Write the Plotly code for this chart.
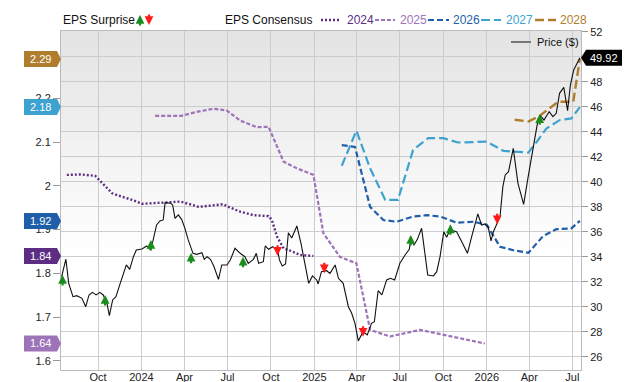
import plotly.graph_objects as go

# ---------------- data ----------------
price_dates = [
    "2023-07-16", "2023-07-25", "2023-07-31", "2023-08-09", "2023-08-17", "2023-08-28",
    "2023-09-05", "2023-09-12", "2023-09-19", "2023-09-27", "2023-10-05", "2023-10-12",
    "2023-10-20", "2023-10-25", "2023-11-01", "2023-11-08", "2023-11-17", "2023-11-24",
    "2023-11-30", "2023-12-07", "2023-12-15", "2023-12-21", "2024-01-02", "2024-01-12",
    "2024-01-19", "2024-01-25", "2024-02-02", "2024-02-09", "2024-02-16", "2024-02-20",
    "2024-02-25", "2024-03-03", "2024-03-07", "2024-03-12", "2024-03-19", "2024-03-26",
    "2024-04-02", "2024-04-09", "2024-04-19", "2024-04-27", "2024-05-08", "2024-05-13",
    "2024-05-19", "2024-05-26", "2024-06-02", "2024-06-12", "2024-06-19", "2024-06-30",
    "2024-07-07", "2024-07-17", "2024-07-28", "2024-08-07", "2024-08-14", "2024-08-25",
    "2024-08-31", "2024-09-05", "2024-09-15", "2024-09-19", "2024-09-26", "2024-10-05",
    "2024-10-16", "2024-10-19", "2024-10-25", "2024-11-01", "2024-11-07", "2024-11-14",
    "2024-11-25", "2024-12-04", "2024-12-20", "2024-12-28", "2025-01-06", "2025-01-09",
    "2025-01-16", "2025-01-27", "2025-02-03", "2025-02-14", "2025-02-21", "2025-03-03",
    "2025-03-14", "2025-03-21", "2025-03-28", "2025-04-04", "2025-04-14", "2025-04-23",
    "2025-05-02", "2025-05-08", "2025-05-16", "2025-05-24", "2025-06-03", "2025-06-11",
    "2025-06-20", "2025-07-01", "2025-07-12", "2025-07-21", "2025-07-24", "2025-07-31",
    "2025-08-07", "2025-08-16", "2025-08-29", "2025-09-10", "2025-09-17", "2025-09-24",
    "2025-10-02", "2025-10-08", "2025-10-15", "2025-10-29", "2025-11-09", "2025-11-21",
    "2025-11-30", "2025-12-13", "2025-12-21", "2025-12-28", "2026-01-04", "2026-01-10",
    "2026-01-15", "2026-01-22", "2026-01-29", "2026-02-04", "2026-02-09", "2026-02-16",
    "2026-02-26", "2026-03-08", "2026-03-20", "2026-03-29", "2026-04-06", "2026-04-20",
    "2026-04-25", "2026-05-02", "2026-05-13", "2026-05-21", "2026-05-28", "2026-06-04",
    "2026-06-13", "2026-06-21", "2026-06-27", "2026-07-04", "2026-07-17",
]
price_values = [
    32.4, 33.8, 31.87, 30.8, 30.88, 30.67,
    30.0, 30.94, 31.15, 30.94, 31.15, 30.94,
    30.27, 29.28, 30.54, 30.8, 31.87, 32.67,
    33.34, 32.99, 34.0, 34.54, 34.62, 34.86,
    34.59, 35.2, 36.54, 36.86, 36.94, 38.32,
    38.32, 38.27, 38.14, 37.07, 37.34, 36.99,
    36.27, 35.34, 34.27, 34.19, 34.32, 33.79,
    34.0, 33.79, 33.26, 32.19, 33.34, 33.34,
    33.74, 34.67, 34.27, 34.0, 33.47, 33.79,
    34.27, 33.47, 33.6, 34.86, 34.59, 34.8,
    34.4, 33.74, 33.26, 33.42, 35.92, 35.5,
    36.46, 35.0, 31.87, 32.46, 32.14, 31.82,
    32.8, 32.88, 32.67, 33.34, 32.27, 31.87,
    30.0, 29.47, 28.67, 27.26, 28.0, 27.74,
    28.67, 28.8, 31.28, 30.94, 32.14, 32.27,
    32.14, 33.47, 34.14, 34.59, 35.39, 34.94,
    35.39, 36.27, 32.54, 32.46, 32.8, 34.0,
    36.0, 35.55, 36.14, 36.0, 35.2, 34.27,
    35.6, 37.42, 36.54, 36.62, 36.35, 35.26,
    36.0, 36.54, 37.2, 39.6, 40.54, 40.8,
    42.67, 39.87, 38.19, 40.27, 42.0, 45.07,
    45.26, 44.94, 45.6, 45.2, 45.47, 47.07,
    47.55, 45.68, 47.74, 48.94, 49.92,
]

eps2024_dates = ["2023-07-27", "2023-08-25", "2023-09-25", "2023-10-13", "2023-10-31", "2023-11-21",
                 "2023-12-12", "2024-01-02", "2024-02-09", "2024-03-23", "2024-04-13", "2024-05-01",
                 "2024-06-22", "2024-07-03", "2024-07-28", "2024-08-25", "2024-09-26", "2024-10-03",
                 "2024-10-14", "2024-10-28", "2024-11-11", "2024-12-02", "2024-12-30"]
eps2024_values = [2.025, 2.026, 2.023, 2.002, 1.983, 1.975,
                  1.968, 1.959, 1.962, 1.964, 1.958, 1.952,
                  1.958, 1.952, 1.941, 1.933, 1.931, 1.922,
                  1.884, 1.857, 1.852, 1.842, 1.84]

eps2025_dates = ["2024-01-30", "2024-03-26", "2024-04-27", "2024-06-01", "2024-06-30", "2024-07-28",
                 "2024-09-01", "2024-09-26", "2024-10-28", "2024-11-25", "2024-12-30", "2025-01-20",
                 "2025-02-24", "2025-03-31", "2025-04-29", "2025-06-10", "2025-08-13", "2025-10-21",
                 "2025-12-28"]
eps2025_values = [2.160, 2.160, 2.169, 2.176, 2.172, 2.149,
                  2.134, 2.135, 2.055, 2.040, 2.025, 1.892,
                  1.838, 1.823, 1.671, 1.656, 1.671, 1.656,
                  1.64]

eps2026_dates = ["2025-02-28", "2025-03-28", "2025-04-29", "2025-05-27", "2025-06-24", "2025-07-29",
                 "2025-08-27", "2025-09-24", "2025-10-29", "2025-12-04", "2026-01-01", "2026-01-29",
                 "2026-02-26", "2026-03-30", "2026-04-30", "2026-05-28", "2026-06-29", "2026-07-17"]
eps2026_values = [2.093, 2.089, 1.952, 1.922, 1.918, 1.930,
                  1.933, 1.930, 1.916, 1.918, 1.911, 1.861,
                  1.853, 1.847, 1.885, 1.901, 1.903, 1.92]

eps2027_dates = ["2025-02-28", "2025-03-31", "2025-04-29", "2025-05-31", "2025-06-27", "2025-07-29",
                 "2025-08-30", "2025-10-01", "2025-11-01", "2026-01-01", "2026-02-05", "2026-03-30",
                 "2026-04-17", "2026-05-07", "2026-06-04", "2026-06-29", "2026-07-17"]
eps2027_values = [2.046, 2.126, 2.040, 1.968, 1.968, 2.082,
                  2.109, 2.109, 2.099, 2.101, 2.080, 2.076,
                  2.101, 2.131, 2.150, 2.154, 2.18]

eps2028_dates = ["2026-03-01", "2026-03-30", "2026-04-23", "2026-06-01", "2026-07-03", "2026-07-17"]
eps2028_values = [2.151, 2.147, 2.160, 2.192, 2.192, 2.29]

surprise_dates = ["2023-07-18", "2023-10-16", "2024-01-21", "2024-04-15", "2024-08-03", "2024-10-15",
                  "2025-01-22", "2025-04-14", "2025-07-24", "2025-10-16", "2026-01-23", "2026-04-23"]
surprise_prices = [32.14, 30.54, 34.94, 33.92, 33.6, 34.48,
                   33.07, 28.0, 35.34, 36.19, 36.99, 44.99]
surprise_dirs = ["up", "up", "up", "up", "up", "down",
                 "down", "down", "up", "up", "down", "up"]

x_tick_dates = ["2023-10-01", "2024-01-01", "2024-04-01", "2024-07-01", "2024-10-01", "2025-01-01",
                "2025-04-01", "2025-07-01", "2025-10-01", "2026-01-01", "2026-04-01", "2026-07-01"]
x_tick_labels = ["Oct", "2024", "Apr", "Jul", "Oct", "2025", "Apr", "Jul", "Oct", "2026", "Apr", "Jul"]
left_tick_vals = [1.6, 1.7, 1.8, 1.9, 2.0, 2.1, 2.2]
left_tick_labels = ["1.6", "1.7", "1.8", "1.9", "2", "2.1", "2.2"]
right_tick_vals = [26, 28, 30, 32, 34, 36, 38, 40, 42, 44, 46, 48, 50, 52]

series = [
    ("2024", eps2024_dates, eps2024_values, "#5c2d82", "2px,2px", 2.4),
    ("2025", eps2025_dates, eps2025_values, "#9d74b8", "4px,2px", 2.2),
    ("2026", eps2026_dates, eps2026_values, "#1f5fa9", "6px,3px", 2.2),
    ("2027", eps2027_dates, eps2027_values, "#3ea2d0", "9px,4px", 2.2),
    ("2028", eps2028_dates, eps2028_values, "#b07d2f", "9px,4px", 2.4),
]

# ---------------- layout geometry (pixels) ----------------
W, H = 640, 382
ML, MR, MT, MB = 61, 59, 31, 12
PW, PH = W - ML - MR, H - MT - MB
FONT = "Liberation Sans, Arial, sans-serif"


def px(xp):
    return (xp - ML) / PW


def py(yp):
    return (H - MB - yp) / PH


fig = go.Figure()

for name, d, v, col, dash, w in series:
    fig.add_trace(go.Scatter(x=d, y=v, mode="lines", name=name, yaxis="y",
                             line=dict(color=col, dash=dash, width=w), hoverinfo="skip"))

fig.add_trace(go.Scatter(x=price_dates, y=price_values, mode="lines", name="Price ($)",
                         yaxis="y2", line=dict(color="#111111", width=1.1)))

shapes = []
annotations = []

# background gradient (light gray at top fading to white)
N = 40
for i in range(N):
    f0, f1 = i / N, (i + 1) / N
    t = max(0.0, (f1 - 0.35) / 0.65)
    c = int(round(255 - (255 - 228) * t))
    shapes.append(dict(type="rect", xref="paper", yref="paper", x0=0, x1=1, y0=f0, y1=f1 + 0.002,
                       fillcolor=f"rgb({c},{c},{c})", line=dict(width=0), layer="below"))

ARROW = dict(arrowhead=2, arrowsize=0.8, arrowwidth=2.2, standoff=0, startstandoff=0,
             font=dict(size=1), borderpad=0, text="", showarrow=True)

# surprise arrows
for d, p, s in zip(surprise_dates, surprise_prices, surprise_dirs):
    up = s == "up"
    annotations.append(dict(x=d, y=p, xref="x", yref="y2",
                            ax=0, ay=11 if up else -11, yshift=5 if up else -5,
                            arrowcolor="#1a8c1a" if up else "#ff1a1a", **ARROW))

# left value tags
for name, d, v, col, dash, w in series:
    shapes.append(dict(type="path", xref="paper", yref="y", xsizemode="pixel", ysizemode="pixel",
                       xanchor=0, yanchor=v[-1], path="M-37,-8 L-4,-8 L0,0 L-4,8 L-37,8 Z",
                       fillcolor=col, line=dict(width=0), layer="above"))
    annotations.append(dict(x=0, y=v[-1], xref="paper", yref="y", xshift=-21, showarrow=False,
                            text=f"{v[-1]:.2f}", font=dict(color="white", size=11, family=FONT),
                            xanchor="center", yanchor="middle"))

# right price tag
last_price = price_values[-1]
shapes.append(dict(type="path", xref="paper", yref="y2", xsizemode="pixel", ysizemode="pixel",
                   xanchor=1, yanchor=last_price, path="M0,0 L5,-8 L41,-8 L41,8 L5,8 Z",
                   fillcolor="#000000", line=dict(width=0), layer="above"))
annotations.append(dict(x=1, y=last_price, xref="paper", yref="y2", xshift=23, showarrow=False,
                        text=f"{last_price:.2f}", font=dict(color="white", size=11, family=FONT),
                        xanchor="center", yanchor="middle"))

# top legend
LY = 20
annotations.append(dict(x=px(61), y=py(LY), xref="paper", yref="paper", text="EPS Surprise",
                        showarrow=False, xanchor="left", yanchor="middle",
                        font=dict(size=12, color="#111", family=FONT)))
annotations.append(dict(x=px(140), y=py(LY), xref="paper", yref="paper",
                        ax=0, ay=11, yshift=5, arrowcolor="#1a8c1a", **ARROW))
annotations.append(dict(x=px(149), y=py(LY), xref="paper", yref="paper",
                        ax=0, ay=-11, yshift=-5, arrowcolor="#ff1a1a", **ARROW))
annotations.append(dict(x=px(223), y=py(LY), xref="paper", yref="paper", text="EPS Consensus",
                        showarrow=False, xanchor="left", yanchor="middle",
                        font=dict(size=12, color="#111", family=FONT)))
legend_x = [(321, 341, 345), (375, 395, 398), (428, 449, 451), (481, 501, 504), (535, 556, 558)]
for (name, d, v, col, dash, w), (s0, s1, tx) in zip(series, legend_x):
    shapes.append(dict(type="line", xref="paper", yref="paper", x0=px(s0), x1=px(s1),
                       y0=py(LY), y1=py(LY), line=dict(color=col, dash=dash, width=w)))
    annotations.append(dict(x=px(tx), y=py(LY), xref="paper", yref="paper", text=name,
                            showarrow=False, xanchor="left", yanchor="middle",
                            font=dict(size=12, color=col, family=FONT)))

# price legend inside plot
shapes.append(dict(type="line", xref="paper", yref="paper", x0=px(511), x1=px(531),
                   y0=py(42), y1=py(42), line=dict(color="#777777", width=2)))
annotations.append(dict(x=px(535), y=py(42), xref="paper", yref="paper", text="Price ($)",
                        showarrow=False, xanchor="left", yanchor="middle",
                        font=dict(size=11, color="#111", family=FONT)))

fig.update_layout(
    width=W, height=H,
    margin=dict(l=ML, r=MR, t=MT, b=MB, autoexpand=False),
    paper_bgcolor="white", plot_bgcolor="white",
    showlegend=False,
    font=dict(family=FONT, size=11, color="#222"),
    shapes=shapes, annotations=annotations,
    xaxis=dict(type="date", range=["2023-07-14 16:00", "2026-07-19 10:00"],
               tickvals=x_tick_dates, ticktext=x_tick_labels, ticks="", automargin=False,
               ticklabelstandoff=-3,
               showgrid=True, gridcolor="#cccccc", gridwidth=1,
               showline=True, linecolor="#bbbbbb", linewidth=1, mirror=True,
               zeroline=False, tickfont=dict(size=11, color="#222")),
    yaxis=dict(range=[1.5794, 2.3537], tickvals=left_tick_vals, ticktext=left_tick_labels,
               showgrid=False, zeroline=False, ticks="outside", ticklen=7, tickcolor="#999999",
               showline=True, linecolor="#bbbbbb", linewidth=1, automargin=False,
               tickfont=dict(size=11, color="#222")),
    yaxis2=dict(range=[24.936, 52.056], overlaying="y", side="right", anchor="x",
                tickvals=right_tick_vals, showgrid=True, gridcolor="#cccccc", gridwidth=1,
                zeroline=False, ticks="outside", ticklen=6, tickcolor="#999999",
                showline=True, linecolor="#bbbbbb", linewidth=1, automargin=False,
                tickfont=dict(size=11, color="#222")),
)

fig.write_html("out.html")
